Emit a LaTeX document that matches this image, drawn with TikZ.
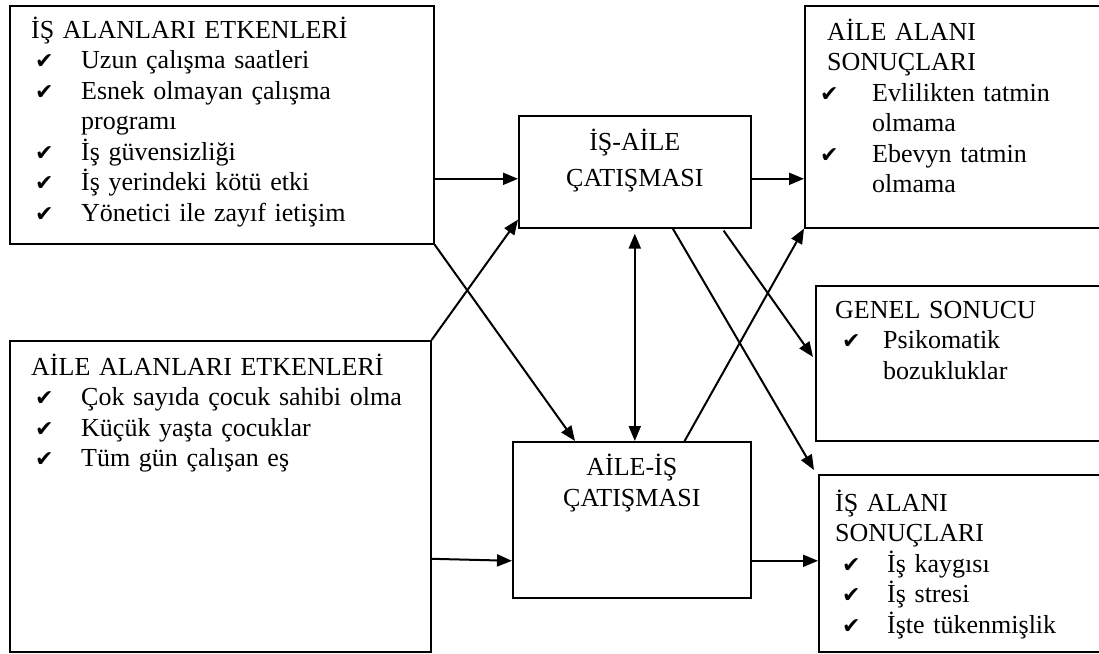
\documentclass[tikz,border=0pt]{standalone}
\usepackage{fontspec}
\setmainfont{Liberation Serif}
\newfontfamily\isaretfont{DejaVu Sans}
\usetikzlibrary{arrows.meta}

\newcommand{\tik}[2]{\hspace*{#1}\makebox[#2][l]{\isaretfont\fontsize{22}{22}\selectfont ✔}}

\begin{document}
\begin{tikzpicture}[x=1pt,y=-1pt,
	kutu/.style={draw,line width=1.6pt,anchor=north west,inner sep=0pt},
	metin/.style={anchor=base west,inner sep=0pt,align=left,text width=#1,font=\fontsize{26}{30.5}\selectfont},
	baslik/.style={anchor=base,inner sep=0pt,align=center,font=\fontsize{26}{30.5}\selectfont},
	ok/.style={-{Triangle[length=15pt,width=12pt]},line width=2pt},
	ciftok/.style={{Triangle[length=15pt,width=12pt]}-{Triangle[length=15pt,width=12pt]},line width=2pt}]
	\useasboundingbox (0,0) rectangle (1099,653);
	\clip (0,0) rectangle (1099,653);

	% Left boxes
	\node[kutu,minimum width=424pt,minimum height=238pt] (isEtken) at (9,5) {};
	\node[metin=395pt] (isEtkenMetin) at ([shift={(22,33)}]isEtken.north west) {İŞ ALANLARI ETKENLERİ\\
		\tik{4pt}{46pt}Uzun çalışma saatleri\\
		\tik{4pt}{46pt}Esnek olmayan çalışma\\
		\hspace*{50pt}programı\\
		\tik{4pt}{46pt}İş güvensizliği\\
		\tik{4pt}{46pt}İş yerindeki kötü etki\\
		\tik{4pt}{46pt}Yönetici ile zayıf ietişim};

	\node[kutu,minimum width=421pt,minimum height=311pt] (aileEtken) at (9,340) {};
	\node[metin=395pt] (aileEtkenMetin) at ([shift={(22,35)}]aileEtken.north west) {AİLE ALANLARI ETKENLERİ\\
		\tik{4pt}{46pt}Çok sayıda çocuk sahibi olma\\
		\tik{4pt}{46pt}Küçük yaşta çocuklar\\
		\tik{4pt}{46pt}Tüm gün çalışan eş};

	% Middle boxes
	\node[kutu,minimum width=232pt,minimum height=112pt] (isAile) at (518,115) {};
	\node[baslik] (isAileMetin) at ([shift={(0,71)}]isAile.north) {İŞ-AİLE\\[5.5pt]ÇATIŞMASI};

	\node[kutu,minimum width=238pt,minimum height=156pt] (aileIs) at (512,441) {};
	\node[baslik] (aileIsMetin) at ([shift={(0,65)}]aileIs.north) {AİLE-İŞ\\ÇATIŞMASI};

	% Right boxes
	\node[kutu,minimum width=301pt,minimum height=222pt] (aileSonuc) at (804,5) {};
	\node[metin=270pt] (aileSonucMetin) at ([shift={(23,35)}]aileSonuc.north west) {AİLE ALANI\\
		SONUÇLARI\\
		\tik{-7pt}{52pt}Evlilikten tatmin\\
		\hspace*{45pt}olmama\\
		\tik{-7pt}{52pt}Ebevyn tatmin\\
		\hspace*{45pt}olmama};

	\node[kutu,minimum width=290pt,minimum height=155pt] (genel) at (815,285) {};
	\node[metin=260pt] (genelMetin) at ([shift={(20,33)}]genel.north west) {GENEL SONUCU\\
		\tik{7pt}{41pt}Psikomatik\\
		\hspace*{48pt}bozukluklar};

	\node[kutu,minimum width=287pt,minimum height=177pt] (isSonuc) at (818,474) {};
	\node[metin=260pt] (isSonucMetin) at ([shift={(17,37)}]isSonuc.north west) {İŞ ALANI\\
		SONUÇLARI\\
		\tik{7pt}{45pt}İş kaygısı\\
		\tik{7pt}{45pt}İş stresi\\
		\tik{7pt}{45pt}İşte tükenmişlik};

	% Arrows
	\draw[ok] ([yshift=-7pt]isAile.west -| isEtken.east) -- ([yshift=-7pt]isAile.west);
	\draw[ok] ([yshift=-7pt]isAile.east) -- ([yshift=-7pt]isAile.east -| aileSonuc.west);
	\draw[ok] (aileEtken.north east) -- ([yshift=9pt]isAile.south west);
	\draw[ok] (isEtken.south east) -- ([xshift=63pt]aileIs.north west);
	\draw[ciftok] ([yshift=-5pt]isAile.south) -- (isAile.south |- aileIs.north);
	\draw[ok] ([xshift=-67pt]aileIs.north east) -- (aileSonuc.south west);
	\draw[ok] ([xshift=38pt]isAile.south) -- ([shift={(-4,-4)}]isSonuc.north west);
	\draw[ok] ([shift={(-28,2)}]isAile.south east) -- ([shift={(-2,72)}]genel.north west);
	\draw[ok] ([yshift=-39pt]aileIs.west -| aileEtken.east) -- ([yshift=-41pt]aileIs.west);
	\draw[ok] ([yshift=-41pt]aileIs.east) -- ([yshift=-41pt]aileIs.east -| isSonuc.west);
\end{tikzpicture}
\end{document}
